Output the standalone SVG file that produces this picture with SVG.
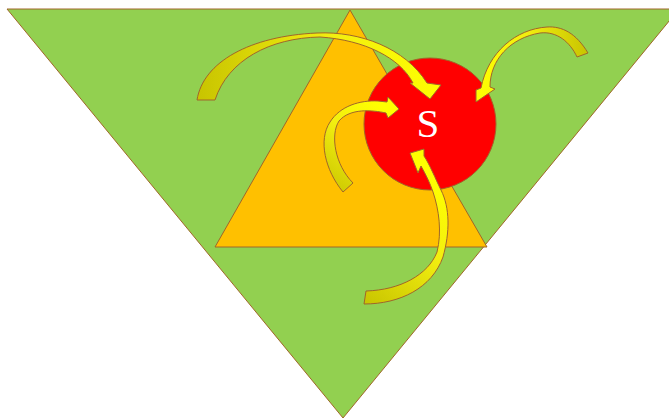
<svg xmlns="http://www.w3.org/2000/svg" width="669" height="419" viewBox="0 0 669 419">
<style>
.shape{stroke:#a0662a;stroke-width:1;stroke-linejoin:miter}
.arrow{stroke:#a0662a;stroke-width:1;stroke-linejoin:round}
.label{font-family:"Liberation Serif","Times New Roman",serif;font-size:41px;fill:#ffffff}
</style>
<defs>
<linearGradient id="g1" x1="0" y1="0" x2="1" y2="0">
<stop offset="0" stop-color="#c8c400"/><stop offset="0.55" stop-color="#f2ee10"/><stop offset="1" stop-color="#ffff00"/>
</linearGradient>
<linearGradient id="g2" x1="1" y1="0" x2="0" y2="0">
<stop offset="0" stop-color="#c8c400"/><stop offset="0.55" stop-color="#f2ee10"/><stop offset="1" stop-color="#ffff00"/>
</linearGradient>
<linearGradient id="g3" x1="0" y1="1" x2="0.6" y2="0">
<stop offset="0" stop-color="#c8c400"/><stop offset="0.6" stop-color="#f2ee10"/><stop offset="1" stop-color="#ffff00"/>
</linearGradient>
<linearGradient id="g4" x1="0" y1="1" x2="0.4" y2="0">
<stop offset="0" stop-color="#c8c400"/><stop offset="0.55" stop-color="#f2ee10"/><stop offset="1" stop-color="#ffff00"/>
</linearGradient>
</defs>
<g id="green-triangle"><polygon class="shape" points="7,9 679,9 343,418" fill="#92d050"/></g>
<g id="orange-triangle"><polygon class="shape" points="350,10 487,247 215,247" fill="#ffc000"/></g>
<g id="circle-s">
<circle class="shape" cx="430" cy="124" r="66" fill="#ff0000"/>
<text class="label" x="428" y="137" text-anchor="middle">S</text>
</g>
<g id="connectors">
<path class="arrow" fill="url(#g1)" d="M197,100 C203,62 250,36 317,33 C360,31 405,48 427,83 L441,85 L430,99 L410,83 L413,83 C400,58 365,40 320,37 C270,38 228,60 215,100 Z"/>
<path class="arrow" fill="url(#g2)" d="M588,53 C576,33 562,26 547,27 C516,29 488,52 481,88 L476,90 L476,102 L495,89 L490,87 C490,60 510,38 540,33 C557,31 570,42 577,57 Z"/>
<path class="arrow" fill="url(#g3)" d="M343,192 C325,170 318,140 330,122 C340,106 360,100 378,101 L387,102 L388,97 L399,109 L388,118 L386,113 C372,110 350,108 339,121 C330,135 335,165 353,183 Z"/>
<path class="arrow" fill="url(#g4)" d="M364,304 C400,304 432,288 443,257 C450,232 450,208 441,190 C435,178 430,165 424,156 L424,149 L410,153 L418,173 L421,166 C426,175 430,183 433,192 C439,210 442,232 437,252 C428,275 400,290 366,291 Z"/>
</g>
</svg>
